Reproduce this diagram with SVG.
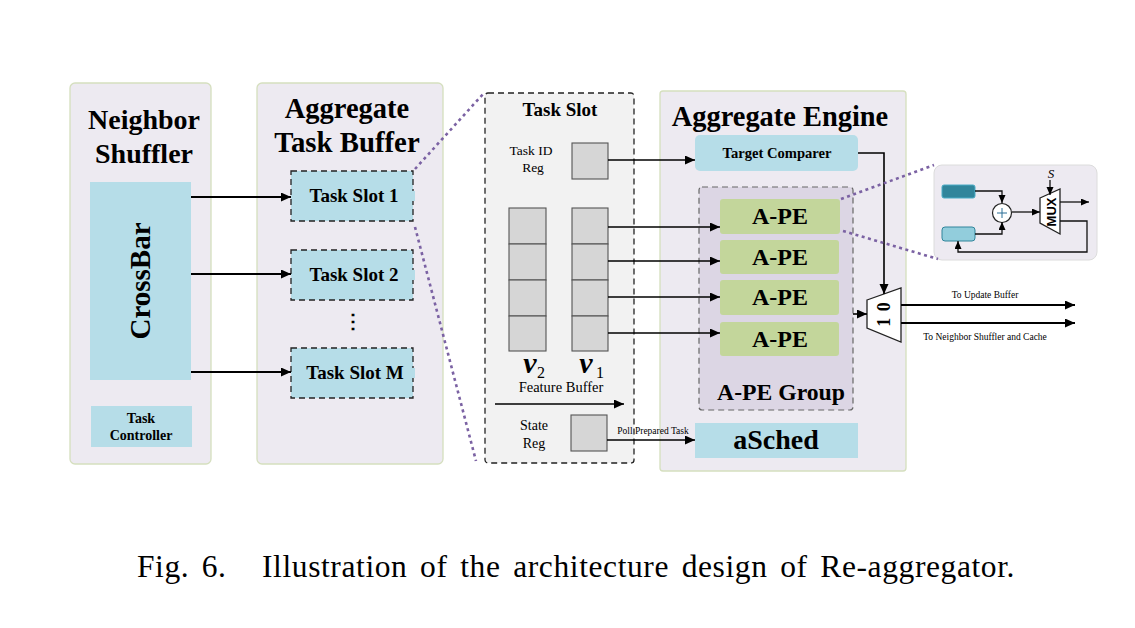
<svg xmlns="http://www.w3.org/2000/svg" width="1135" height="628" viewBox="0 0 1135 628">
<style>
text{font-family:"Liberation Serif","Times New Roman",serif;fill:#000;text-anchor:middle}
.b{font-weight:bold}
.panel{fill:#edeaf1;stroke:#d5dfbe;stroke-width:1.3}
.cy{fill:#b6dde8}
.slot{fill:#b6dde8;stroke:#222;stroke-width:1.3;stroke-dasharray:6 4}
.reg{fill:#d6d6d6;stroke:#555;stroke-width:1.1}
.green{fill:#c3d69b}
.lm{fill:none;stroke:#000;stroke-width:1.6;marker-end:url(#a)}
.lt{fill:none;stroke:#000;stroke-width:2;marker-end:url(#a)}
.ls{fill:none;stroke:#111;stroke-width:1.3;marker-end:url(#s)}
.pd{fill:none;stroke:#7b62a3;stroke-width:2.6;stroke-dasharray:3 3.5}
</style>
<defs>
<marker id="a" markerUnits="userSpaceOnUse" markerWidth="11" markerHeight="10" refX="10" refY="4.5" orient="auto"><path d="M0 0L10 4.5L0 9z" fill="#000"/></marker>
<marker id="s" markerUnits="userSpaceOnUse" markerWidth="9" markerHeight="8" refX="8" refY="3.5" orient="auto"><path d="M0 0L8 3.5L0 7z" fill="#000"/></marker>
</defs>
<rect width="1135" height="628" fill="#fff"/>
<g id="neighbor-shuffler">
<rect class="panel" x="70" y="83" width="141" height="381" rx="5"/>
<text class="b" x="144" y="129" font-size="28">Neighbor</text>
<text class="b" x="144" y="163" font-size="28">Shuffler</text>
</g>
<g id="crossbar"><rect class="cy" x="90" y="182" width="101" height="198"/>
<text class="b" transform="translate(150 281) rotate(-90)" font-size="29">CrossBar</text></g>
<g id="task-controller"><rect class="cy" x="91" y="406" width="101" height="41"/>
<text class="b" x="141" y="423" font-size="14">Task</text><text class="b" x="141" y="440" font-size="14">Controller</text></g>
<g id="aggregate-task-buffer">
<rect class="panel" x="257" y="83" width="186" height="381" rx="5"/>
<text class="b" x="347" y="118" font-size="28.5">Aggregate</text>
<text class="b" x="347" y="152" font-size="28.8">Task Buffer</text>
<text class="b" x="353" y="328" font-size="20">⋮</text>
</g>
<g id="task-slot-1"><rect class="slot" x="291" y="171" width="122" height="50"/><rect class="cy" x="412" y="191" width="3" height="10"/><text class="b" x="354" y="202" font-size="19">Task Slot 1</text></g>
<g id="task-slot-2"><rect class="slot" x="291" y="250" width="122" height="50"/><rect class="cy" x="412" y="270" width="3" height="10"/><text class="b" x="354" y="281" font-size="19">Task Slot 2</text></g>
<g id="task-slot-m"><rect class="slot" x="291" y="348" width="122" height="50"/><rect class="cy" x="412" y="368" width="3" height="10"/><text class="b" x="355" y="379" font-size="19">Task Slot M</text></g>
<g id="task-slot-detail">
<rect x="485" y="93" width="149" height="370" rx="3" fill="#f2f2f2" stroke="#222" stroke-width="1.3" stroke-dasharray="6 4"/>
<text class="b" x="560" y="116" font-size="19">Task Slot</text>
<text x="531" y="155" font-size="13.5">Task ID</text><text x="533" y="172" font-size="13.5">Reg</text>
<rect class="reg" x="572" y="143" width="36" height="36"/>
<rect class="reg" x="509" y="208" width="37" height="36"/><rect class="reg" x="509" y="244" width="37" height="36"/><rect class="reg" x="509" y="280" width="37" height="36"/><rect class="reg" x="509" y="316" width="37" height="35"/>
<rect class="reg" x="572" y="208" width="36" height="36"/><rect class="reg" x="572" y="244" width="36" height="36"/><rect class="reg" x="572" y="280" width="36" height="36"/><rect class="reg" x="572" y="316" width="36" height="35"/>
<text x="530" y="373" font-size="30" font-style="italic" font-weight="bold">ν</text><text x="541" y="378" font-size="16">2</text>
<text x="586" y="373" font-size="30" font-style="italic" font-weight="bold">ν</text><text x="600" y="378" font-size="16">1</text>
<text x="561" y="392" font-size="14.5">Feature Buffer</text>
<text x="534" y="430" font-size="14">State</text><text x="534" y="448" font-size="14">Reg</text>
<rect class="reg" x="571" y="415" width="36" height="36"/>
</g>
<g id="aggregate-engine">
<rect class="panel" x="660" y="91" width="246" height="380" rx="3"/>
<text class="b" x="780" y="126" font-size="28.4">Aggregate Engine</text>
</g>
<g id="target-comparer"><rect class="cy" x="695" y="135" width="163" height="36" rx="5"/><text class="b" x="777" y="158" font-size="14.6">Target Comparer</text></g>
<g id="a-pe-group">
<rect x="699" y="187" width="154" height="223" rx="3" fill="#dcd6e4" stroke="#666" stroke-width="1.2" stroke-dasharray="6 4"/>
<text class="b" x="781" y="400" font-size="23.7">A-PE Group</text>
</g>
<g id="a-pe-1"><rect class="green" x="720" y="199" width="120" height="35" rx="3"/><text class="b" x="780" y="224" font-size="24">A-PE</text></g>
<g id="a-pe-2"><rect class="green" x="720" y="240" width="119" height="34" rx="3"/><text class="b" x="780" y="265" font-size="24">A-PE</text></g>
<g id="a-pe-3"><rect class="green" x="720" y="280" width="119" height="35" rx="3"/><text class="b" x="780" y="305" font-size="24">A-PE</text></g>
<g id="a-pe-4"><rect class="green" x="720" y="322" width="119" height="34" rx="3"/><text class="b" x="780" y="347" font-size="24">A-PE</text></g>
<g id="asched"><rect class="cy" x="695" y="423" width="163" height="35"/><text class="b" x="776" y="449" font-size="28">aSched</text></g>
<g id="mux-10"><path d="M867 300L901 288V342L867 328z" fill="#fff" stroke="#222" stroke-width="1.3"/>
<text class="b" transform="translate(890 314) rotate(-90)" font-size="18" letter-spacing="1">1 0</text></g>
<g id="ape-detail">
<rect x="934" y="165" width="163" height="95" rx="8" fill="#edeaf1" stroke="#dcdcdc"/>
<rect x="942" y="185" width="33" height="13" rx="2" fill="#31859b" stroke="#4bacc6"/>
<rect x="942" y="227" width="33" height="14" rx="3" fill="#92cddc" stroke="#31859b"/>
<circle cx="1002" cy="213" r="9.5" fill="#fff" stroke="#222" stroke-width="1.2"/>
<path d="M997 213H1007M1002 208V218" stroke="#2a6f97" fill="none"/>
<path d="M1040 198L1060 189V234L1040 223z" fill="#fff" stroke="#222" stroke-width="1.3"/>
<text class="b" transform="translate(1056 212) rotate(-90)" font-size="13" style="font-family:'Liberation Sans',sans-serif">MUX</text>
<text x="1051" y="178" font-size="13" font-style="italic">S</text>
<path class="ls" d="M975 191H1002V203"/>
<path class="ls" d="M975 234H1002V222"/>
<path class="ls" d="M1012 212H1040"/>
<path class="ls" d="M1050 180V195"/>
<path class="ls" d="M1060 202H1089"/>
<path class="ls" d="M1060 221H1087V252H958V241"/>
</g>
<g id="connectors">
<path class="lt" d="M191 197H291"/>
<path class="lt" d="M191 274H291"/>
<path class="lt" d="M191 372H291"/>
<path class="lm" d="M608 160H695"/>
<path class="lm" d="M608 227H720"/>
<path class="lm" d="M608 261H720"/>
<path class="lm" d="M608 297H720"/>
<path class="lm" d="M608 333H720"/>
<path class="lm" d="M495 404H624"/>
<path class="lm" d="M607 440H695"/>
<path class="lm" d="M858 153H884V294"/>
<path class="lm" d="M853 314H867"/>
<path class="lt" d="M901 305H1075"/>
<path class="lt" d="M901 323H1075"/>
<path class="pd" d="M415 169L484 93"/>
<path class="pd" d="M415 227L476 461"/>
<path class="pd" d="M841 199L934 165"/>
<path class="pd" d="M843 231L938 259"/>
</g>
<g id="edge-labels">
<text x="653" y="434" font-size="9.5">Poll Prepared Task</text>
<text x="985" y="298" font-size="9.5">To Update Buffer</text>
<text x="985" y="340" font-size="9.5">To Neighbor Shuffler and Cache</text>
</g>
<g id="caption">
<text x="137" y="577" font-size="31.5" style="text-anchor:start" letter-spacing=".6" word-spacing="4">Fig. 6.</text>
<text x="262" y="577" font-size="31.5" style="text-anchor:start" letter-spacing=".6" word-spacing="4.2">Illustration of the architecture design of Re-aggregator.</text>
</g>
</svg>
